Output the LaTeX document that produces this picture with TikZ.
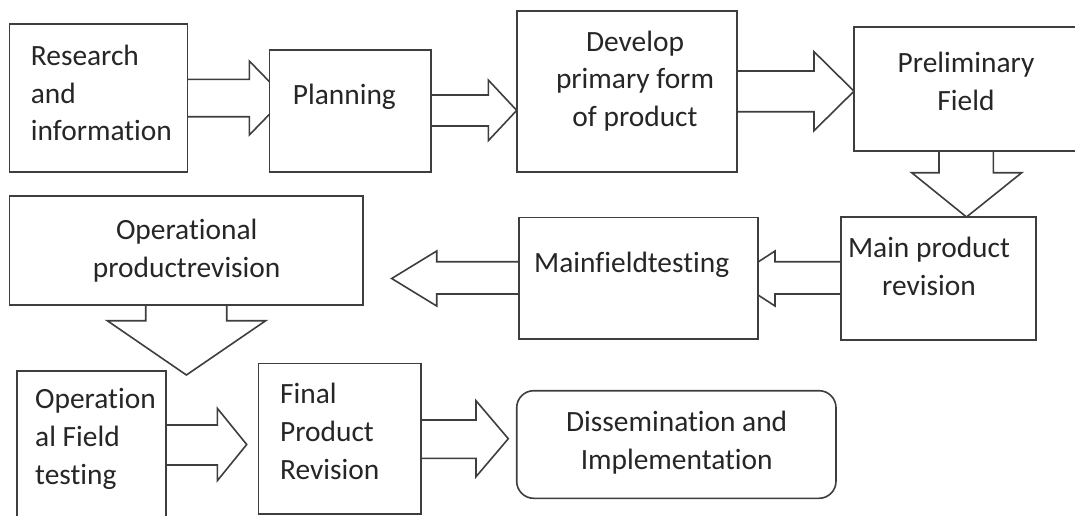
\documentclass[tikz,border=0pt]{standalone}
\usepackage{fontspec}
\setmainfont{Carlito}[Ligatures={NoCommon,NoRare}]
\usetikzlibrary{backgrounds,calc}
\definecolor{edge}{RGB}{62,62,62}
\definecolor{ink}{RGB}{38,38,38}
\begin{document}
\begin{tikzpicture}[x=1pt,y=-1pt,
  box/.style={draw=edge, line width=1.6pt, fill=white, rectangle,
    inner sep=0pt, outer sep=0pt, anchor=north west},
  txt/.style={text=ink, font=\fontsize{29.4}{37.7}\selectfont, inner sep=0pt},
  barrow/.style={draw=edge, line width=1.6pt, fill=white, line join=miter}]
\useasboundingbox (0,0) rectangle (1075,515);
\clip (0,0) rectangle (1075,515);

% stage boxes
\node[box, minimum width=178pt,   minimum height=147.7pt] (res)    at (9.3,24)    {};
\node[box, minimum width=161.7pt, minimum height=121.7pt] (plan)   at (269.3,50)  {};
\node[box, minimum width=220.3pt, minimum height=160.7pt] (dev)    at (516.7,11)  {};
\node[box, minimum width=224pt,   minimum height=124pt]   (prel)   at (854,26.7)  {};
\node[box, minimum width=195pt,   minimum height=123pt]   (mprod)  at (841,217)   {};
\node[box, minimum width=238.7pt, minimum height=121.7pt] (mfield) at (519,217.3) {};
\node[box, minimum width=353.4pt, minimum height=109pt]   (oprev)  at (9.3,196)   {};
\node[box, minimum width=149pt,   minimum height=154.3pt] (ofield) at (16.7,370.7){};
\node[box, minimum width=162.4pt, minimum height=150.7pt] (final)  at (258.3,363.3){};
\node[box, rounded corners=17pt, minimum width=319.3pt, minimum height=107.6pt] (diss) at (516.7,390.7) {};

% stage texts
\node[txt, anchor=west, align=left]  (tres)    at (30.7,93)   {Research\\and\\information};
\node[txt, anchor=west]              (tplan)   at (292.7,97)  {Planning};
\node[txt, align=center]             (tdev)    at (635,81)    {Develop\\primary form\\of product};
\node[txt, align=center]             (tprel)   at (966,81.7)  {Preliminary\\Field};
\node[txt, align=center]             (tmprod)  at (929,266.5) {Main product\\revision};
\node[txt]                           (tmfield) at (631.7,265) {Mainfieldtesting};
\node[txt, align=center]             (toprev)  at (186.7,251) {Operational\\productrevision};
\node[txt, anchor=west, align=left]  (tofield) at (35,439)    {Operation\\al Field\\testing};
\node[txt, anchor=west, align=left]  (tfinal)  at (280,431.5) {Final\\Product\\Revision};
\node[txt, align=center]             (tdiss)   at (676.7,443) {Dissemination and\\Implementation};

% block arrows between the stages, kept behind the boxes
\begin{pgfonlayer}{background}
\draw[barrow] (res.center |- 0,79.3) -- (249.3,79.3) -- (249.3,61)
  -- ($(plan.west |- 0,98)+(16,0)$) -- (249.3,135) -- (249.3,116.7)
  -- (res.center |- 0,116.7) -- cycle;
\draw[barrow] (plan.center |- 0,95) -- (488.3,95) -- (488.3,80)
  -- (dev.west |- 0,110.4) -- (488.3,140.7) -- (488.3,126)
  -- (plan.center |- 0,126) -- cycle;
\draw[barrow] (dev.center |- 0,71) -- (814,71) -- (814,51.7)
  -- (prel.west |- 0,91.2) -- (814,130.7) -- (814,111.7)
  -- (dev.center |- 0,111.7) -- cycle;
\draw[barrow] (939,0 |- prel.center) -- (939,172.7) -- (911.7,172.7)
  -- (966.5,0 |- mprod.north) -- (1021.7,172.7) -- (993.3,172.7)
  -- (993.3,0 |- prel.center) -- cycle;
\draw[barrow] (mprod.center |- 0,261.7) -- (775,261.7) -- (775,251)
  -- ($(mfield.east |- 0,278.5)+(-25,0)$) -- (775,306) -- (775,294)
  -- (mprod.center |- 0,294) -- cycle;
\draw[barrow] (mfield.center |- 0,261.7) -- (436.7,261.7) -- (436.7,251)
  -- (391.7,278.5) -- (436.7,306) -- (436.7,294)
  -- (mfield.center |- 0,294) -- cycle;
\draw[barrow] (145.7,0 |- oprev.center) -- (145.7,320.7) -- (107.3,320.7)
  -- (186.4,375) -- (265.7,320.7) -- (226.7,320.7)
  -- (226.7,0 |- oprev.center) -- cycle;
\draw[barrow] (ofield.center |- 0,425) -- (217.3,425) -- (217.3,408.3)
  -- (246.7,444.5) -- (217.3,480.7) -- (217.3,465)
  -- (ofield.center |- 0,465) -- cycle;
\draw[barrow] (final.center |- 0,420) -- (476,420) -- (476,400.7)
  -- (508.3,438.7) -- (476,476.7) -- (476,458.3)
  -- (final.center |- 0,458.3) -- cycle;
\end{pgfonlayer}
\end{tikzpicture}
\end{document}
